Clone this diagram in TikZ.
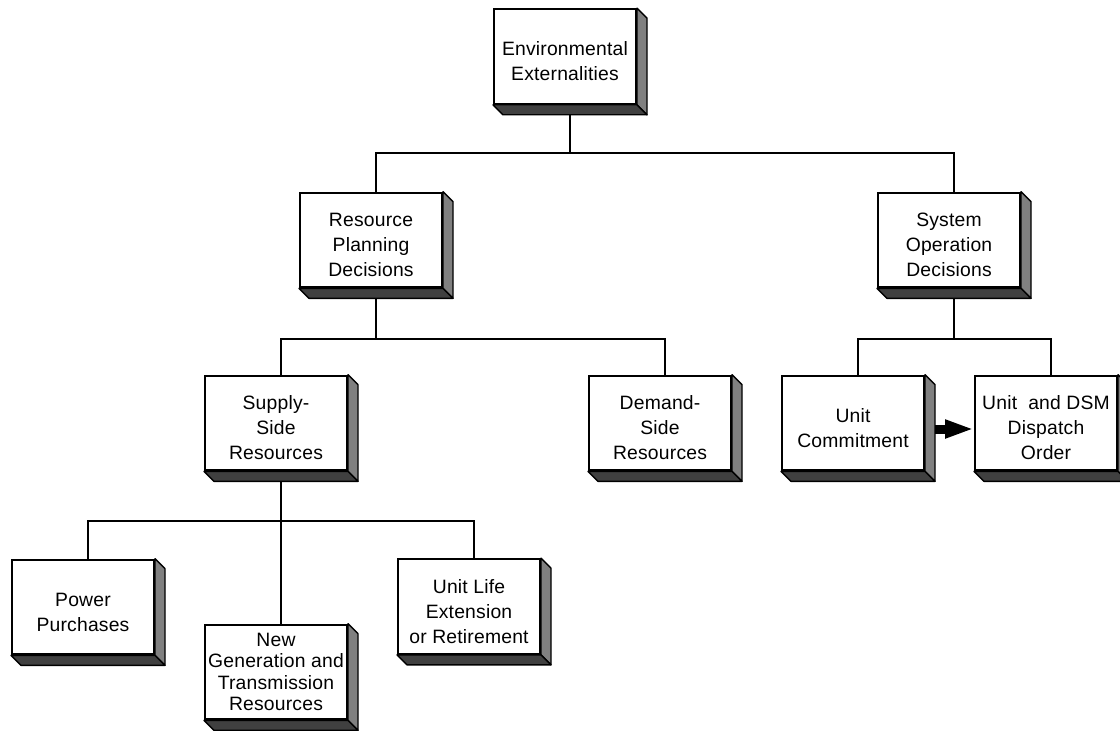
\documentclass[tikz,border=0pt]{standalone}
\usepackage{fontspec}
\setmainfont{Liberation Sans}
\newfontfamily\boxfont[LetterSpace=1]{Liberation Sans}
\usepackage{tikz}
\usetikzlibrary{calc,arrows.meta}

\definecolor{sidegray}{gray}{0.5}
\definecolor{basegray}{gray}{0.25}

% side and bottom faces of a box
\newcommand{\extrude}[1]{%
  \filldraw[fill=sidegray, draw=black, line width=1pt, line join=round] (#1.north east) -- ++(10,10) -- ($(#1.south east)+(10,10)$) -- (#1.south east) -- cycle;
  \filldraw[fill=basegray, draw=black, line width=1pt, line join=round] (#1.south west) -- ++(10,10) -- ($(#1.south east)+(10,10)$) -- (#1.south east) -- cycle;}
% pushes the text a little down in its box
\newcommand{\tstrut}{\rule{0pt}{18pt}}

\tikzset{
  block/.style={draw, fill=white, line width=1.5pt, minimum width=106.5pt, minimum height=71pt, inner sep=0pt, align=center,
    font=\boxfont\fontsize{14.5pt}{18.75pt}\selectfont},
  tightblock/.style={block, font=\boxfont\fontsize{14.5pt}{16pt}\selectfont},
  link/.style={line width=1.3pt},
}

\begin{document}
\begin{tikzpicture}[x=0.75pt, y=-0.75pt]
                \useasboundingbox (0,0) rectangle (1120,731);

                \node[block] (env) at (565,56.5) {\tstrut Environmental\\Externalities};
                \node[block] (resplan) at (371,240) {\tstrut Resource\\Planning\\Decisions};
                \node[block] (sysop) at (949,240) {\tstrut System\\Operation\\Decisions};
                \node[block] (supply) at (276,423) {\tstrut Supply-\\Side\\Resources};
                \node[block] (demand) at (660,423) {\tstrut Demand-\\Side\\Resources};
                \node[block] (unitcom) at (853,423) {\tstrut Unit\\Commitment};
                \node[block] (dispatch) at (1046,423) {\tstrut Unit~~and DSM\\Dispatch\\Order};
                \node[block] (power) at (83,607) {\tstrut Power\\Purchases};
                \node[tightblock] (newgen) at (276,672) {New\\Generation and\\Transmission\\Resources};
                \node[block] (unitlife) at (469,606.5) {\tstrut Unit Life\\Extension\\or Retirement};

                \foreach \n in {env,resplan,sysop,supply,demand,unitcom,dispatch,power,newgen,unitlife}
                    \extrude{\n};

                \coordinate (bar1) at ($(env.south)+(5,48)$);
                \coordinate (bar2) at ($(resplan.south)+(5,51)$);
                \coordinate (bar3) at ($(sysop.south)+(5,51)$);
                \coordinate (bar4) at ($(supply.south)+(5,50)$);

                \draw[link] ($(env.south)+(5,10)$) -- (bar1);
                \draw[link] ($(resplan.north)+(5,0)$) |- (bar1) -| ($(sysop.north)+(5,0)$);

                \draw[link] ($(resplan.south)+(5,10)$) -- (bar2);
                \draw[link] ($(supply.north)+(5,0)$) |- (bar2) -| ($(demand.north)+(5,0)$);

                \draw[link] ($(sysop.south)+(5,10)$) -- (bar3);
                \draw[link] ($(unitcom.north)+(5,0)$) |- (bar3) -| ($(dispatch.north)+(5,0)$);

                \draw[link] ($(supply.south)+(5,10)$) -- ($(newgen.north)+(5,0)$);
                \draw[link] ($(power.north)+(5,0)$) |- (bar4) -| ($(unitlife.north)+(5,0)$);

                \draw[line width=6.75pt, -{Triangle[length=21.75pt, width=12.75pt]}] ($(unitcom.east)+(10,6)$) -- ($(dispatch.west)+(0,6)$);
\end{tikzpicture}
\end{document}
